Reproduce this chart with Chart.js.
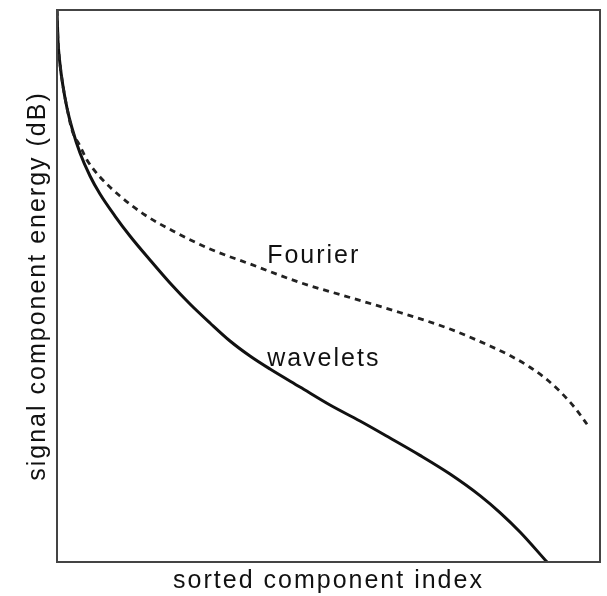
<!DOCTYPE html>
<html>
<head>
<meta charset="utf-8">
<script src="https://cdn.jsdelivr.net/npm/chart.js@4.4.1/dist/chart.umd.min.js"></script>
<style>
  html, body { margin: 0; padding: 0; background: #fff; }
  #c { display: block; }
</style>
</head>
<body>
<canvas id="c" width="607" height="596"></canvas>
<script>
// sorted component index (0..100, arbitrary units) and energy (dB, arbitrary units)
const waveletX = [0, 0.18, 0.55, 1.10, 1.84, 2.76, 4.24, 6.08, 7.92, 10.68, 13.44, 17.13, 20.81, 24.49, 28.18, 31.86, 35.54, 39.23, 44.75, 50.28, 55.80, 61.33, 66.85, 72.38, 77.90, 81.58, 85.27, 90.24];
const waveletY = [100, 94.57, 90.22, 86.23, 82.25, 78.62, 74.09, 69.93, 66.67, 62.68, 59.06, 54.71, 50.54, 46.74, 43.30, 40.04, 37.32, 34.96, 31.70, 28.44, 25.54, 22.46, 19.32, 15.94, 12.03, 8.95, 5.43, 0];

const fourierX = [0, 0.18, 0.55, 1.10, 1.84, 2.76, 4.24, 5.52, 7.92, 11.60, 16.21, 21.73, 28.18, 35.54, 44.75, 53.96, 63.17, 72.38, 79.74, 83.43, 87.11, 89.87, 92.63, 95.40, 97.61];
const fourierY = [100, 94.57, 90.22, 86.23, 82.25, 78.26, 75.36, 72.83, 69.75, 66.30, 62.86, 59.78, 56.70, 53.99, 50.63, 47.92, 45.20, 42.21, 39.13, 37.39, 35.29, 33.33, 30.89, 27.90, 24.96];

const seriesLabels = ["Fourier", "wavelets"];
const labelPosX = [38.7, 38.7];
const labelPosY = [54.2, 35.5];

const xTitle = "sorted component index";
const yTitle = "signal component energy (dB)";

const toPts = (xs, ys) => xs.map((x, i) => ({ x: x, y: ys[i] }));

const FONT = "'Liberation Sans', Arial, Helvetica, sans-serif";

const spacingPlugin = {
  id: 'spacing',
  beforeDraw(chart) { chart.ctx.letterSpacing = '2px'; }
};

const framePlugin = {
  id: 'frame',
  afterDraw(chart) {
    const a = chart.chartArea, ctx = chart.ctx;
    ctx.save();
    ctx.strokeStyle = '#444';
    ctx.lineWidth = 2;
    ctx.strokeRect(a.left, a.top, a.right - a.left, a.bottom - a.top);
    ctx.restore();
  }
};

const labelPlugin = {
  id: 'curveLabels',
  afterDatasetsDraw(chart) {
    const ctx = chart.ctx, xs = chart.scales.x, ys = chart.scales.y;
    ctx.save();
    ctx.letterSpacing = '2px';
    ctx.font = "25px " + FONT;
    ctx.fillStyle = '#111';
    ctx.textAlign = 'left';
    ctx.textBaseline = 'alphabetic';
    seriesLabels.forEach((t, i) => {
      ctx.fillText(t, xs.getPixelForValue(labelPosX[i]), ys.getPixelForValue(labelPosY[i]));
    });
    ctx.restore();
  }
};

new Chart(document.getElementById('c'), {
  type: 'scatter',
  data: {
    datasets: [
      {
        label: seriesLabels[0],
        data: toPts(fourierX, fourierY),
        showLine: true,
        borderColor: '#222',
        borderWidth: 2.8,
        borderDash: [6, 5],
        pointRadius: 0,
        cubicInterpolationMode: 'monotone',
        fill: false
      },
      {
        label: seriesLabels[1],
        data: toPts(waveletX, waveletY),
        showLine: true,
        borderColor: '#111',
        borderWidth: 3,
        pointRadius: 0,
        cubicInterpolationMode: 'monotone',
        fill: false
      }
    ]
  },
  options: {
    responsive: false,
    animation: false,
    devicePixelRatio: 1,
    layout: { padding: { left: 19, right: 7, top: 10, bottom: 0 } },
    plugins: {
      legend: { display: false },
      tooltip: { enabled: false }
    },
    scales: {
      x: {
        type: 'linear',
        min: 0, max: 100,
        grid: { display: false, drawTicks: false },
        border: { display: false },
        ticks: { display: false },
        title: {
          display: true, text: xTitle, color: '#111',
          font: { size: 25, family: FONT }, padding: { top: 4, bottom: 0 }
        }
      },
      y: {
        type: 'linear',
        min: 0, max: 100,
        grid: { display: false, drawTicks: false },
        border: { display: false },
        ticks: { display: false },
        title: {
          display: true, text: yTitle, color: '#111',
          font: { size: 25, family: FONT }, padding: { top: 4, bottom: 4 }
        }
      }
    }
  },
  plugins: [spacingPlugin, framePlugin, labelPlugin]
});
</script>
</body>
</html>
